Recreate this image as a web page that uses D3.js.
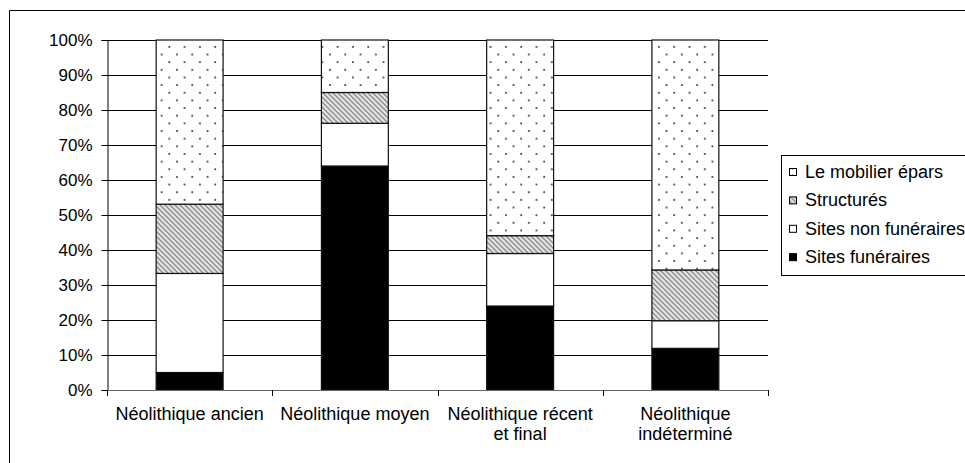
<!DOCTYPE html>
<html>
<head>
<meta charset="utf-8">
<script src="https://cdn.jsdelivr.net/npm/d3@7"></script>
<style>
  html, body { margin: 0; padding: 0; background: #fff; }
  svg { display: block; font-family: "Liberation Sans", Arial, sans-serif; }
</style>
</head>
<body>
<svg id="chart" width="965" height="463"></svg>
<script>
// Periods (x categories); line breaks split the axis labels
const categories = ["Néolithique ancien", "Néolithique moyen", "Néolithique récent\net final", "Néolithique\nindéterminé"];

// Share of each site type per period (%), stacked bottom to top
const sitesFuneraires    = [5.0, 64.0, 24.0, 11.9];
const sitesNonFuneraires = [28.3, 12.2, 15.0, 7.9];
const structures         = [19.8, 8.8, 5.1, 14.5];
const mobilierEpars      = [46.9, 15.0, 55.9, 65.7];

const seriesNames = ["Sites funéraires", "Sites non funéraires", "Structurés", "Le mobilier épars"];
const yTicks = [0, 10, 20, 30, 40, 50, 60, 70, 80, 90, 100];

const svg = d3.select("#chart");
const defs = svg.append("defs");

// Dotted fill
const dots = defs.append("pattern")
  .attr("id", "dots").attr("patternUnits", "userSpaceOnUse")
  .attr("width", 15.3).attr("height", 15.3);
dots.append("rect").attr("width", 15.3).attr("height", 15.3).attr("fill", "#fff");
dots.append("circle").attr("cx", 1).attr("cy", 1).attr("r", 0.95).attr("fill", "#222");
dots.append("circle").attr("cx", 8.65).attr("cy", 8.65).attr("r", 0.95).attr("fill", "#222");

// Diagonal hatch fill
const hatch = defs.append("pattern")
  .attr("id", "hatch").attr("patternUnits", "userSpaceOnUse")
  .attr("width", 5).attr("height", 5);
hatch.append("rect").attr("width", 5).attr("height", 5).attr("fill", "#e4e4e4");
hatch.append("path").attr("d", "M-1,-1 L6,6 M-1,4 L1,6 M4,-1 L6,1")
  .attr("stroke", "#8a8a8a").attr("stroke-width", 1.3);

// Small legend variant of the dotted fill
const dotsSm = defs.append("pattern")
  .attr("id", "dotsSm").attr("patternUnits", "userSpaceOnUse")
  .attr("width", 7).attr("height", 7);
dotsSm.append("rect").attr("width", 7).attr("height", 7).attr("fill", "#fff");
dotsSm.append("circle").attr("cx", 3.5).attr("cy", 3.5).attr("r", 0.9).attr("fill", "#333");

const fills = ["#000", "#fff", "url(#hatch)", "url(#dots)"];
const legendFills = ["#000", "#fff", "url(#hatch)", "url(#dotsSm)"];

const m = { left: 107, right: 768, top: 40, bottom: 390 };

const x = d3.scaleBand().domain(categories).range([m.left, m.right]).padding(0);
const y = d3.scaleLinear().domain([0, 100]).range([m.bottom, m.top]);
const barW = x.bandwidth() * 0.405;

// Frame
svg.append("path")
  .attr("d", `M9.5,470 L9.5,10.5 L975,10.5`)
  .attr("fill", "none").attr("stroke", "#000").attr("stroke-width", 1);

// Gridlines
svg.append("g").selectAll("line").data(yTicks.slice(1)).join("line")
  .attr("x1", m.left).attr("x2", m.right)
  .attr("y1", d => Math.round(y(d)) + 0.5).attr("y2", d => Math.round(y(d)) + 0.5)
  .attr("stroke", "#000").attr("stroke-width", 1);

// Stacked bars
const table = categories.map((c, i) => ({
  cat: c,
  "Sites funéraires": sitesFuneraires[i],
  "Sites non funéraires": sitesNonFuneraires[i],
  "Structurés": structures[i],
  "Le mobilier épars": mobilierEpars[i]
}));
const stacked = d3.stack().keys(seriesNames)(table);

svg.append("g").selectAll("g").data(stacked).join("g")
  .attr("fill", (d, i) => fills[i])
  .selectAll("rect").data(d => d).join("rect")
  .attr("x", d => x(d.data.cat) + (x.bandwidth() - barW) / 2)
  .attr("width", barW)
  .attr("y", d => y(d[1]))
  .attr("height", d => y(d[0]) - y(d[1]))
  .attr("stroke", "#111").attr("stroke-width", 1.2);

// Y axis
const yAxis = d3.axisLeft(y).tickValues(yTicks).tickFormat(d => d + "%").tickSize(6).tickPadding(9);
const gy = svg.append("g").attr("transform", `translate(${m.left + 0.5},0)`).call(yAxis);
gy.select(".domain").attr("stroke", "#000");
gy.selectAll(".tick line").attr("stroke", "#000");
gy.selectAll("text").attr("font-size", 17).attr("font-family", "Liberation Sans, Arial, sans-serif").attr("fill", "#000");

// X axis: line and boundary ticks
svg.append("line")
  .attr("x1", m.left).attr("x2", m.right)
  .attr("y1", m.bottom + 0.5).attr("y2", m.bottom + 0.5)
  .attr("stroke", "#666");
svg.append("g").selectAll("line").data(categories.concat(["end"])).join("line")
  .attr("x1", (d, i) => Math.round(m.left + i * x.step()) + 0.5)
  .attr("x2", (d, i) => Math.round(m.left + i * x.step()) + 0.5)
  .attr("y1", m.bottom).attr("y2", m.bottom + 6)
  .attr("stroke", "#000");

// Category labels
svg.append("g").selectAll("text").data(categories).join("text")
  .attr("x", d => x(d) + x.bandwidth() / 2)
  .attr("y", 420)
  .attr("text-anchor", "middle")
  .attr("font-size", 18)
  .attr("fill", "#000")
  .selectAll("tspan").data(d => d.split("\n")).join("tspan")
  .attr("x", function() { return d3.select(this.parentNode).attr("x"); })
  .attr("dy", (d, i) => i === 0 ? 0 : 20)
  .text(d => d);

// Legend
const lg = svg.append("g");
lg.append("rect").attr("x", 781.5).attr("y", 155.5).attr("width", 200).attr("height", 120)
  .attr("fill", "#fff").attr("stroke", "#000");
const legendOrder = [3, 2, 1, 0];
const items = lg.selectAll("g.item").data(legendOrder).join("g")
  .attr("class", "item")
  .attr("transform", (d, i) => `translate(789,${172 + i * 28.4})`);
items.append("rect").attr("x", 0.5).attr("y", -3.5).attr("width", 7).attr("height", 7)
  .attr("fill", d => legendFills[d]).attr("stroke", "#000").attr("stroke-width", 1);
items.append("text").attr("x", 16).attr("y", 6).attr("font-size", 18).attr("fill", "#000")
  .text(d => seriesNames[d]);
</script>
</body>
</html>
